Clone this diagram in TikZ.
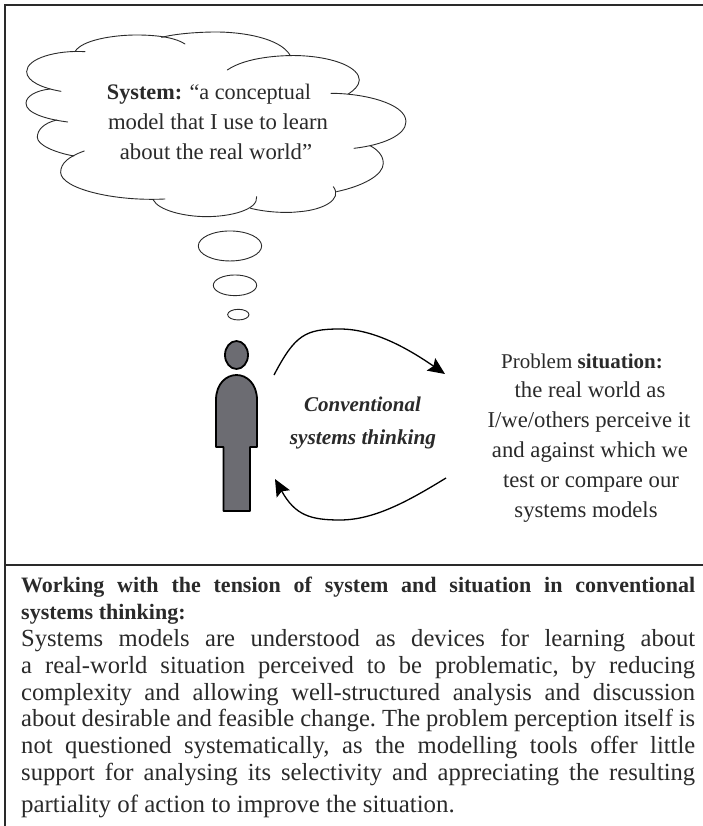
\documentclass[tikz,border=0pt]{standalone}
\usepackage{fontspec}
\setmainfont{Liberation Serif}
\usetikzlibrary{arrows.meta}
\definecolor{ink}{HTML}{2A2A2A}
\definecolor{figgrey}{HTML}{6C6C72}
\tikzset{
  frameline/.style={draw=ink,line width=1.2pt},
  cloudline/.style={draw=ink,line width=0.9pt,line cap=round},
  bubble/.style={draw=ink,line width=0.9pt},
  loopline/.style={draw=black,line width=1.3pt,-{Stealth[length=17pt,width=15pt,inset=3pt]}},
  figureshape/.style={draw=black,line width=1.8pt,fill=figgrey,line join=round},
  label/.style={font=\fontsize{22.7}{26}\selectfont,text=ink,anchor=base,inner sep=0pt},
  bodytext/.style={font=\fontsize{24.6}{26.8}\selectfont\frenchspacing,text=ink,anchor=north west,inner sep=0pt,text width=674pt,align=justify},
}
\begin{document}
\begin{tikzpicture}[x=1pt,y=-1pt]
\useasboundingbox (0,0) rectangle (703,826);
\fill[white] (0,0) rectangle (703,826);
\coordinate (tl) at (5,5);
\coordinate (tr) at (703,5);
\coordinate (bl) at (5,826);
\coordinate (ml) at (5,565);
\coordinate (mr) at (703,565);
\draw[frameline] (tr) -- (tl) -- (bl);
\draw[frameline] (ml) -- (mr);
\begin{scope}[x=0.3333pt,y=-0.3333pt]
\draw[cloudline] (255,155) .. controls (170,150) and (80,175) .. (80,215) .. controls (80,245) and (130,265) .. (183,274);
\draw[cloudline] (150,267) .. controls (105,272) and (78,290) .. (78,310) .. controls (78,340) and (140,358) .. (203,366);
\draw[cloudline] (170,360) .. controls (130,370) and (112,390) .. (112,412) .. controls (112,435) and (165,458) .. (222,468);
\draw[cloudline] (253,453) .. controls (205,470) and (182,490) .. (182,517) .. controls (182,565) and (340,605) .. (495,597);
\draw[cloudline] (460,600) .. controls (475,630) and (550,650) .. (620,650) .. controls (690,650) and (775,630) .. (770,590);
\draw[cloudline] (752,625) .. controls (800,637) and (860,640) .. (900,635) .. controls (965,630) and (1030,600) .. (1000,560);
\draw[cloudline] (1010,575) .. controls (1090,558) and (1150,525) .. (1150,490) .. controls (1150,465) and (1130,447) .. (1110,437);
\draw[cloudline] (1062,445) .. controls (1150,435) and (1218,405) .. (1218,365) .. controls (1218,310) and (1090,280) .. (993,280);
\draw[cloudline] (682,210) .. controls (740,170) and (850,165) .. (900,167) .. controls (1010,172) and (1078,205) .. (1078,240) .. controls (1078,258) and (1060,272) .. (1045,282);
\draw[cloudline] (870,165) .. controls (840,115) and (730,95) .. (640,96) .. controls (580,97) and (525,102) .. (485,112);
\draw[cloudline] (225,155) .. controls (245,120) and (340,105) .. (410,105) .. controls (480,105) and (530,115) .. (555,132);
\draw[bubble] (690,738) ellipse [x radius=95,y radius=45];
\draw[bubble] (705,856) ellipse [x radius=65,y radius=31];
\draw[bubble] (715,944) ellipse [x radius=32,y radius=16];
\end{scope}
% figure
\draw[figureshape] (216,447) -- (216,400) .. controls (216,384) and (226,375) .. (236.5,375) .. controls (247,375) and (257,384) .. (257,400) -- (257,447) -- (250,447) -- (250,511) -- (223.5,511) -- (223.5,447) -- cycle;
\draw[figureshape] (236.5,355) ellipse [x radius=11.5,y radius=14];
% loop
\coordinate (a1) at (274,375);
\coordinate (a2) at (445,374);
\coordinate (b1) at (446,478);
\coordinate (b2) at (275,479);
\draw[loopline] (a1) .. controls (295,335) and (305,329) .. (340,329) .. controls (375,329) and (410,350) .. (a2);
\draw[loopline] (b1) .. controls (410,500) and (375,520) .. (340,520) .. controls (310,520) and (295,515) .. (b2);
% text
\node[label,font=\fontsize{22.2}{26}\selectfont] (s1) at (209,100) {\textbf{System:} “a conceptual};
\node[label] (s2) at (218,130) {model that I use to learn};
\node[label] (s3) at (216,160) {about the real world”};
\node[label,font=\fontsize{21}{26}\selectfont\bfseries\itshape] (c1) at (362.5,411) {Conventional};
\node[label,font=\fontsize{21.3}{26}\selectfont\bfseries\itshape] (c2) at (363,444) {systems thinking};
\node[label,font=\fontsize{21}{26}\selectfont] (p0) at (582,368) {Problem \textbf{situation:}};
\node[label] (p1) at (590,397) {the real world as};
\node[label] (p2) at (589,427) {I/we/others perceive it};
\node[label] (p3) at (590,457) {and against which we};
\node[label] (p4) at (591,487) {test or compare our};
\node[label] (p5) at (586,517) {systems models};
\node[bodytext,font=\fontsize{22}{26.8}\selectfont\bfseries] (h) at (21,577) {Working with the tension of system and situation in conventional\linebreak systems thinking:};
\node[bodytext] (b) at (21,629) {Systems models are understood as devices for learning about\linebreak a real-world situation perceived to be problematic, by reducing\linebreak complexity and allowing well-structured analysis and discussion\linebreak about desirable and feasible change. The problem perception itself is\linebreak not questioned systematically, as the modelling tools offer little\linebreak support for analysing its selectivity and appreciating the resulting\linebreak\mbox{}};
\node[bodytext,font=\fontsize{24.9}{26.8}\selectfont,anchor=base west] (l) at (21,812) {partiality of action to improve the situation.};
\end{tikzpicture}
\end{document}
